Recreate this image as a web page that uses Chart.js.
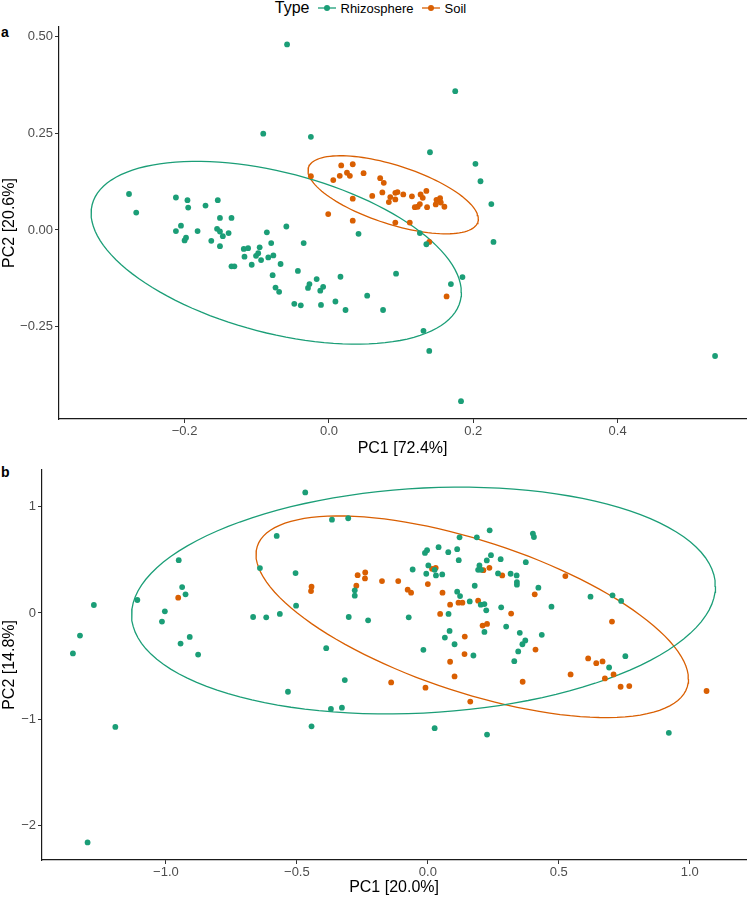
<!DOCTYPE html>
<html>
<head>
<meta charset="utf-8">
<script src="https://cdn.jsdelivr.net/npm/chart.js@4"></script>
<style>
  body { margin: 0; background: #fff; font-family: "Liberation Sans", Arial, sans-serif; }
  #page { position: relative; width: 749px; height: 897px; }
  #legend { position: absolute; top: 0; left: 0; width: 749px; height: 16px; display: flex; justify-content: center; align-items: center; }
  #legend .title { font-size: 16px; margin-right: 8px; }
  #legend .item { font-size: 13px; display: flex; align-items: center; margin-right: 8px; }
  #legend canvas { margin-right: 5px; }
  .tag { position: absolute; font-weight: bold; font-size: 14px; left: 1px; }
  .panel { position: absolute; left: 0; width: 749px; }
</style>
</head>
<body>
<div id="page">
  <div id="legend">
    <span class="title">Type</span>
    <span class="item"><canvas id="keyRhizo" width="18" height="10"></canvas>Rhizosphere</span>
    <span class="item"><canvas id="keySoil" width="18" height="10"></canvas>Soil</span>
  </div>
  <div class="tag" style="top:24px">a</div>
  <div class="tag" style="top:464px">b</div>
  <div class="panel" style="top:0; height:460px"><canvas id="chartA"></canvas></div>
  <div class="panel" style="top:460px; height:437px"><canvas id="chartB"></canvas></div>
</div>
<script>
const green = '#1B9E77';
const orange = '#D95F02';

// panel a: PC1 [72.4%] vs PC2 [20.6%]
const aRhizosphere = [
  [-0.277, 0.093], [-0.267, 0.045], [-0.212, 0.084], [-0.196, 0.077], [-0.195, 0.058],
  [-0.171, 0.063], [-0.154, 0.077], [-0.151, 0.031], [-0.135, 0.031], [-0.205, 0.011],
  [-0.212, -0.003], [-0.182, -0.003], [-0.198, -0.020], [-0.200, -0.027], [-0.155, 0.003],
  [-0.151, -0.004], [-0.147, -0.016], [-0.139, -0.008], [-0.163, -0.028], [-0.151, -0.042],
  [-0.086, -0.006], [-0.059, 0.009], [-0.080, -0.034], [-0.118, -0.049], [-0.112, -0.047],
  [-0.096, -0.045], [-0.117, -0.069], [-0.101, -0.067], [-0.094, -0.078], [-0.084, -0.071],
  [-0.077, -0.066], [-0.098, -0.060], [-0.107, -0.090], [-0.067, -0.088], [-0.135, -0.094],
  [-0.131, -0.094], [-0.035, -0.034], [-0.078, -0.117], [-0.043, -0.106], [-0.074, -0.149],
  [-0.069, -0.160], [-0.017, -0.127], [-0.027, -0.140], [-0.029, -0.150], [-0.012, -0.157],
  [-0.008, -0.147], [0.016, -0.121], [-0.048, -0.191], [-0.039, -0.195], [-0.011, -0.194],
  [0.009, -0.185], [0.023, -0.207], [0.041, -0.010], [-0.058, 0.480], [-0.091, 0.249],
  [-0.025, 0.241], [0.175, 0.359], [0.140, 0.201], [0.203, 0.171], [0.210, 0.126],
  [0.225, 0.067], [0.228, -0.031], [0.126, -0.008], [0.135, -0.037], [0.169, -0.140],
  [0.185, -0.122], [0.131, -0.261], [0.139, -0.313], [0.183, -0.443], [0.535, -0.326],
  [0.093, -0.113], [0.053, -0.170], [0.075, -0.207]
];
const aSoil = [
  [-0.025, 0.139], [0.017, 0.167], [0.033, 0.170], [0.006, 0.129], [0.015, 0.140],
  [0.025, 0.148], [0.029, 0.140], [0.048, 0.147], [0.071, 0.134], [0.076, 0.122],
  [0.060, 0.088], [0.074, 0.097], [0.033, 0.081], [0.085, 0.085], [0.092, 0.096],
  [0.095, 0.098], [0.092, 0.079], [0.083, 0.072], [0.103, 0.092], [0.115, 0.087],
  [0.127, 0.092], [0.130, 0.083], [0.135, 0.101], [0.126, 0.067], [0.119, 0.059],
  [0.123, 0.060], [0.136, 0.059], [0.149, 0.078], [0.154, 0.082], [0.148, 0.066],
  [0.155, 0.071], [0.160, 0.060], [-0.001, 0.041], [0.033, 0.024], [0.092, 0.019],
  [0.112, 0.019], [0.139, -0.031], [0.163, -0.172]
];
// ellipse: centre x, centre y, half width, half height, cos of phase between x and y
const aRhizoEllipse = [-0.073, -0.059, 0.2565, 0.2365, -0.433];
const aSoilEllipse = [0.089, 0.091, 0.118, 0.101, -0.62];
const aXTicks = [-0.2, 0, 0.2, 0.4];
const aXLabels = ['\u22120.2', '0.0', '0.2', '0.4'];
const aYTicks = [-0.25, 0, 0.25, 0.5];
const aYLabels = ['\u22120.25', '0.00', '0.25', '0.50'];

// panel b: PC1 [20.0%] vs PC2 [14.8%]
const bRhizosphere = [
  [-0.468, 1.134], [-0.366, 0.878], [-0.304, 0.891], [-0.577, 0.725], [-0.951, 0.497],
  [-0.641, 0.422], [-0.505, 0.375], [-0.938, 0.244], [-0.925, 0.175], [-1.109, 0.122],
  [-1.275, 0.075], [-1.004, 0.016], [-1.015, -0.081], [-1.328, -0.213], [-1.355, -0.381],
  [-0.944, -0.288], [-0.909, -0.225], [-0.877, -0.391], [-0.667, -0.038], [-0.617, -0.041],
  [-0.565, -0.009], [-0.503, 0.069], [-0.388, -0.331], [-0.317, -0.631], [-0.534, -0.741],
  [-0.370, -0.903], [-0.328, -0.891], [-0.444, -1.066], [-1.193, -1.072], [-1.299, -2.159],
  [0.026, -1.084], [0.226, -1.144], [0.920, -1.128], [0.754, -0.406], [0.692, -0.513],
  [0.621, 0.153], [0.705, 0.166], [0.738, 0.113], [-0.279, 0.213], [-0.279, 0.163],
  [-0.302, -0.038], [-0.228, -0.069],
  [0.121, 0.712], [0.187, 0.712], [0.236, 0.778], [0.401, 0.747], [0.405, 0.715],
  [-0.003, 0.590], [-0.011, 0.565], [0.041, 0.619], [0.078, 0.572], [0.112, 0.600],
  [0.118, 0.497], [0.241, 0.544], [0.225, 0.494], [0.278, 0.506], [0.374, 0.478],
  [-0.058, 0.409], [0.002, 0.447], [-0.006, 0.369], [0.026, 0.406], [0.031, 0.353],
  [0.055, 0.363], [0.197, 0.447], [0.192, 0.406], [0.203, 0.406], [0.268, 0.372],
  [0.316, 0.369], [0.339, 0.353], [0.340, 0.291], [0.340, 0.266], [0.422, 0.238],
  [0.179, 0.256], [0.112, 0.200], [0.123, 0.159], [0.160, 0.109], [0.202, 0.078],
  [0.216, 0.084], [0.223, 0.025], [0.280, 0.053], [0.472, 0.059], [-0.073, -0.041],
  [0.079, -0.009], [0.083, -0.169], [0.065, -0.231], [0.102, -0.294], [0.216, -0.178],
  [0.299, -0.128], [0.351, -0.187], [0.372, -0.259], [0.361, -0.294], [0.435, -0.206],
  [0.345, -0.362], [-0.017, -0.347], [0.174, -0.400], [0.330, -0.453]
];
const bSoil = [
  [-0.953, 0.144], [-0.444, 0.247], [-0.446, 0.206], [-0.268, 0.356], [-0.239, 0.381],
  [-0.240, 0.325], [-0.273, 0.256], [-0.175, 0.300], [-0.113, 0.300], [-0.140, -0.653],
  [-0.009, -0.703], [0.102, -0.597], [0.162, -0.834], [0.362, -0.647], [0.525, 0.347],
  [0.703, -0.081], [0.545, -0.578], [0.612, -0.428], [0.643, -0.472], [0.667, -0.456],
  [0.676, -0.616], [0.709, -0.578], [0.736, -0.694], [0.769, -0.688], [1.064, -0.734],
  [0.016, 0.415], [0.030, 0.425], [0.212, 0.403], [0.235, 0.425], [0.284, 0.353],
  [0.000, 0.272], [-0.077, 0.219], [-0.064, 0.191], [0.056, 0.191], [0.408, 0.175],
  [0.085, 0.078], [0.117, 0.097], [0.132, 0.097], [0.192, 0.116], [0.047, -0.009],
  [0.318, -0.006], [0.209, -0.119], [0.226, -0.103], [0.141, -0.222], [0.411, -0.344],
  [0.140, -0.387], [0.085, -0.459]
];
const bRhizoEllipse = [-0.0165, 0.117, 1.1145, 1.067, 0.125];
const bSoilEllipse = [0.1695, -0.0355, 0.8255, 0.9485, -0.617];
const bXTicks = [-1, -0.5, 0, 0.5, 1];
const bXLabels = ['\u22121.0', '\u22120.5', '0.0', '0.5', '1.0'];
const bYTicks = [-2, -1, 0, 1];
const bYLabels = ['\u22122', '\u22121', '0', '1'];

function toPoints(list) {
  return list.map(p => ({ x: p[0], y: p[1] }));
}

function ellipse(e) {
  const [cx, cy, rx, ry, c] = e;
  const phi = Math.acos(c);
  const out = [];
  for (let i = 0; i <= 120; i++) {
    const t = 2 * Math.PI * i / 120;
    out.push({ x: cx + rx * Math.cos(t), y: cy + ry * Math.cos(t - phi) });
  }
  return out;
}

function pointSet(data, color) {
  return { type: 'scatter', data: toPoints(data), backgroundColor: color, borderColor: color,
           pointRadius: 2.9, pointBorderWidth: 0, pointHoverRadius: 2.9 };
}

function ellipseSet(e, color) {
  return { type: 'line', data: ellipse(e), borderColor: color, borderWidth: 1.3,
           pointRadius: 0, fill: false, tension: 0 };
}

function axis(min, max, ticks, labels, title, titlePad, size, horizontal) {
  return {
    type: 'linear', min: min, max: max,
    afterBuildTicks: s => { s.ticks = ticks.map(v => ({ value: v })); },
    afterFit: s => { if (horizontal) s.height = size; else s.width = size; },
    grid: { drawOnChartArea: false, drawTicks: true, tickLength: 4, color: '#333', lineWidth: 1 },
    border: { display: true, color: '#1a1a1a', width: 1.2 },
    ticks: { autoSkip: false, maxRotation: 0, padding: horizontal ? 1 : 2, color: '#4d4d4d',
             font: { family: 'Liberation Sans', size: 13 },
             callback: (v, i) => labels[i] },
    title: { display: true, text: title, color: '#000', padding: titlePad,
             font: { family: 'Liberation Sans', size: 16 } }
  };
}

function makeChart(id, datasets, x, y, top) {
  return new Chart(document.getElementById(id), {
    type: 'scatter',
    data: { datasets: datasets },
    options: {
      responsive: true, maintainAspectRatio: false, animation: false,
      layout: { padding: { top: top, left: 0, right: 0, bottom: 0 } },
      plugins: { legend: { display: false }, tooltip: { enabled: false } },
      scales: { x: x, y: y }
    }
  });
}

makeChart('chartA', [
  pointSet(aRhizosphere, green), pointSet(aSoil, orange),
  ellipseSet(aRhizoEllipse, green), ellipseSet(aSoilEllipse, orange)
], axis(-0.374, 0.578, aXTicks, aXLabels, 'PC1 [72.4%]', 2, 41, true),
   axis(-0.489, 0.525, aYTicks, aYLabels, 'PC2 [20.6%]', 0, 59, false), 27);

makeChart('chartB', [
  pointSet(bRhizosphere, green), pointSet(bSoil, orange),
  ellipseSet(bRhizoEllipse, green), ellipseSet(bSoilEllipse, orange)
], axis(-1.473, 1.215, bXTicks, bXLabels, 'PC1 [20.0%]', 0, 37, true),
   axis(-2.324, 1.347, bYTicks, bYLabels, 'PC2 [14.8%]', 0, 42, false), 8);

function drawKey(id, color) {
  const ctx = document.getElementById(id).getContext('2d');
  ctx.strokeStyle = color; ctx.lineWidth = 1.3;
  ctx.beginPath(); ctx.moveTo(0, 5); ctx.lineTo(18, 5); ctx.stroke();
  ctx.fillStyle = color;
  ctx.beginPath(); ctx.arc(9, 5, 3, 0, 2 * Math.PI); ctx.fill();
}
drawKey('keyRhizo', green);
drawKey('keySoil', orange);
</script>
</body>
</html>
